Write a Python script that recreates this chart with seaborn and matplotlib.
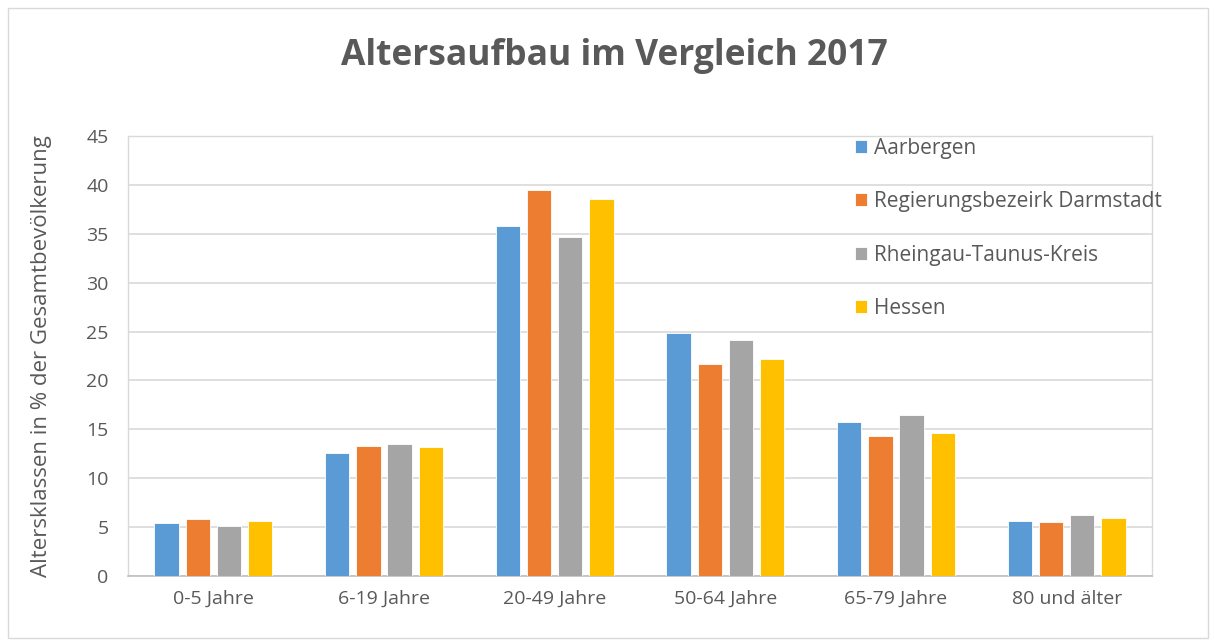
import matplotlib
matplotlib.use("Agg")
import matplotlib.pyplot as plt
import seaborn as sns
import pandas as pd
from matplotlib.patches import Rectangle

categories = ["0-5 Jahre", "6-19 Jahre", "20-49 Jahre", "50-64 Jahre", "65-79 Jahre", "80 und älter"]
series_names = ["Aarbergen", "Regierungsbezeirk Darmstadt", "Rheingau-Taunus-Kreis", "Hessen"]
aarbergen = [5.45, 12.6, 35.75, 24.85, 15.8, 5.6]
darmstadt = [5.8, 13.3, 39.5, 21.7, 14.3, 5.55]
rheingau = [5.1, 13.5, 34.7, 24.1, 16.45, 6.25]
hessen = [5.6, 13.2, 38.55, 22.2, 14.65, 5.9]
colors = ["#5B9BD5", "#ED7D31", "#A5A5A5", "#FFC000"]

rows = []
for name, vals in zip(series_names, [aarbergen, darmstadt, rheingau, hessen]):
    for c, v in zip(categories, vals):
        rows.append({"cat": c, "series": name, "val": v})
df = pd.DataFrame(rows)

sns.set_theme(style="white")
plt.rcParams['font.family'] = ['Open Sans', 'DejaVu Sans']
text_color = "#595959"

fig = plt.figure(figsize=(12.14, 6.44), dpi=100)
ax = fig.add_axes([128/1214, (644-576)/644, (1152-128)/1214, (576-136)/644])

sns.barplot(data=df, x="cat", y="val", hue="series", order=categories,
            hue_order=series_names, palette=colors, saturation=1, width=0.73, gap=0.22,
            edgecolor="white", linewidth=0.6, ax=ax, zorder=3)

ax.set_ylim(0, 45)
ax.set_yticks(range(0, 46, 5))
ax.yaxis.grid(True, color="#D9D9D9", linewidth=1.2, zorder=0)
ax.set_axisbelow(True)
ax.set_xlabel("")
ax.set_ylabel("Altersklassen in % der Gesamtbevölkerung", fontsize=16, color=text_color,
              va="center")
ax.yaxis.set_label_coords(-(128 - 42) / 1024, 0.5)
ax.tick_params(axis="both", length=0, labelsize=14, colors=text_color)
ax.tick_params(axis="x", pad=10)
ax.tick_params(axis="y", pad=14)
for s in ["left", "right", "top"]:
    ax.spines[s].set_color("#D9D9D9")
    ax.spines[s].set_linewidth(1.0)
ax.spines["bottom"].set_color("#BFBFBF")
ax.spines["bottom"].set_linewidth(1.2)

leg = ax.legend(loc="upper left", bbox_to_anchor=(0.70, 1.02), frameon=False,
                fontsize=15, labelspacing=1.56, handlelength=0.55, handleheight=0.55,
                handletextpad=0.35, borderaxespad=0.1)
for t in leg.get_texts():
    t.set_color(text_color)

fig.text(0.506, 1 - 56/644, "Altersaufbau im Vergleich 2017", ha="center", va="center",
         fontsize=25.5, fontweight="bold", color=text_color)

fig.patches.append(Rectangle((8/1214, 6/644), 1200/1214, 630/644, transform=fig.transFigure,
                             fill=False, edgecolor="#D9D9D9", linewidth=1.0))

fig.savefig("out.png", dpi=100)
